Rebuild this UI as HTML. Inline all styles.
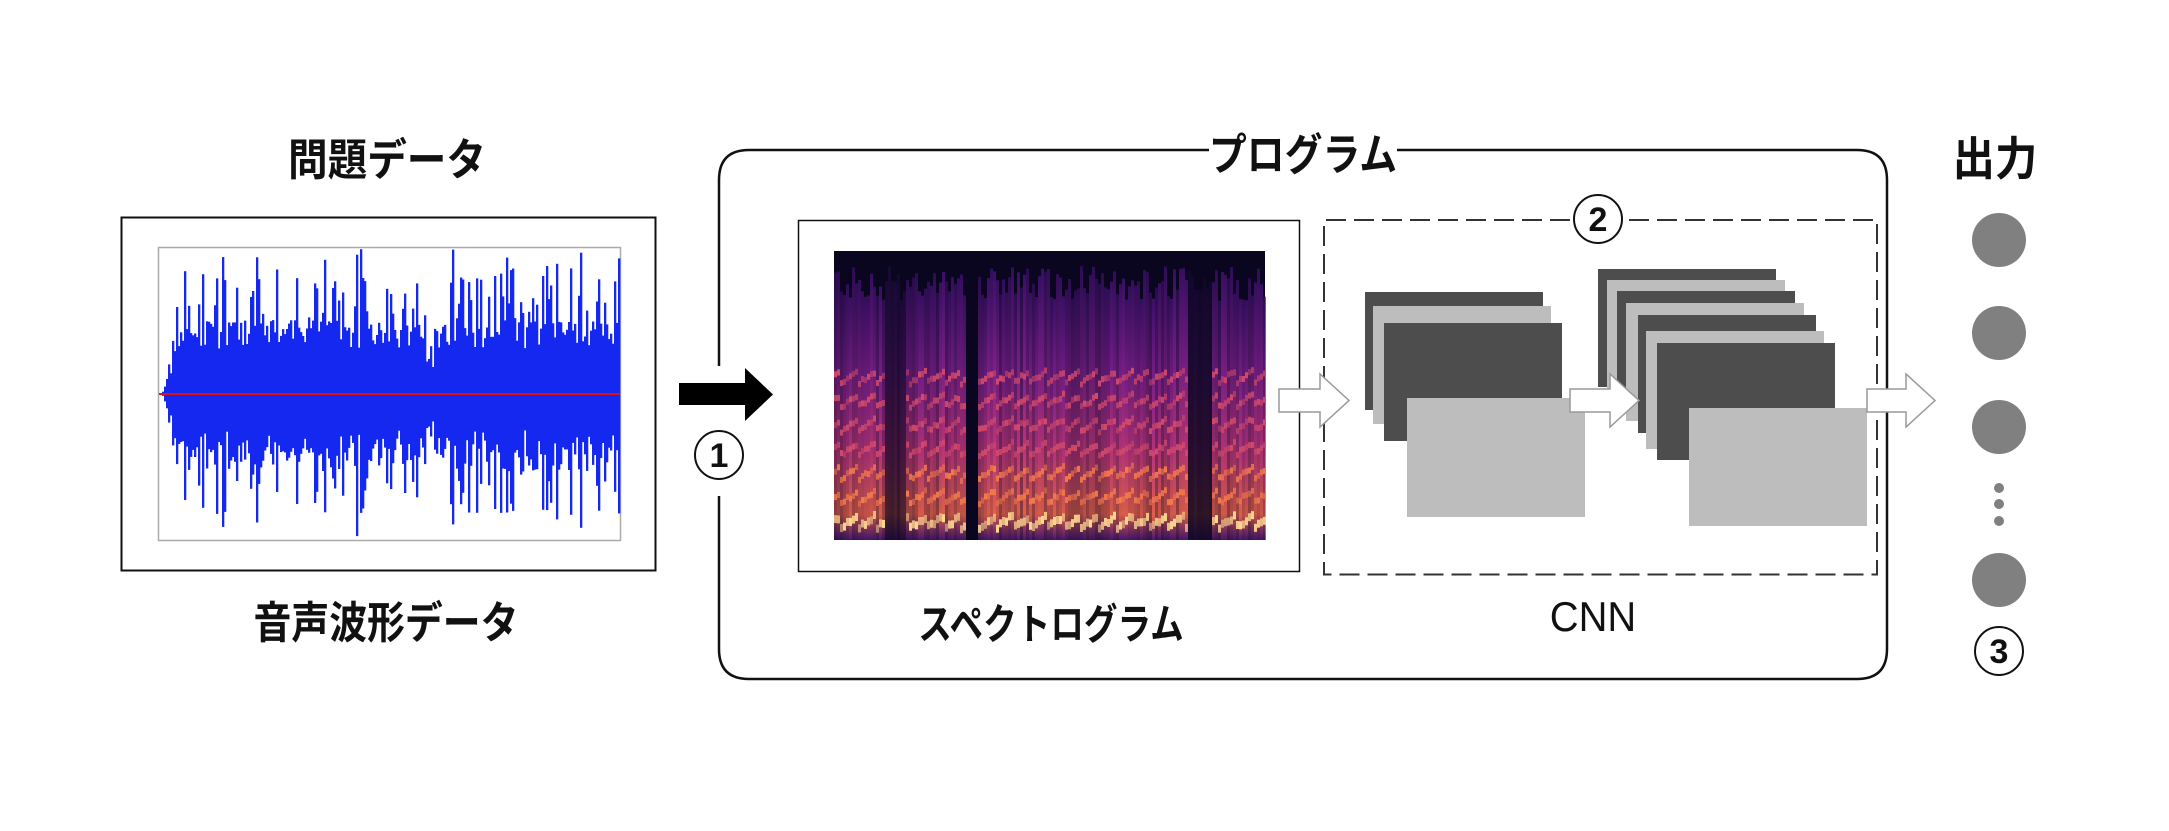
<!DOCTYPE html>
<html><head><meta charset="utf-8">
<style>
html,body{margin:0;padding:0;background:#fff;}
body{width:2169px;height:831px;position:relative;overflow:hidden;font-family:"Liberation Sans","Noto Sans CJK JP",sans-serif;}
.t{position:absolute;font-family:"Noto Sans CJK JP","Liberation Sans",sans-serif;font-weight:700;color:#111;white-space:nowrap;line-height:1;}
</style></head><body>
<svg id="s" width="2169" height="831" style="position:absolute;left:0;top:0">
<defs>
<linearGradient id="col" x1="0" y1="0" x2="0" y2="1">
<stop offset="0" stop-color="#3a0f66"/><stop offset="0.35" stop-color="#7a1f88"/><stop offset="0.65" stop-color="#b8347a"/><stop offset="0.9" stop-color="#e0604a"/><stop offset="1" stop-color="#4a1670"/>
</linearGradient>
</defs>
<rect x="121.5" y="217.5" width="534" height="353" fill="#fff" stroke="#111" stroke-width="2"/>
<rect x="158.5" y="247.5" width="462" height="293" fill="#fff" stroke="#aaa" stroke-width="1.5"/>
<g id="wave"><polygon fill="#1428f0" points="162,394 175,340 200,335 300,330 420,340 431,360 445,335 600,330 620,335 620,453 600,458 445,453 431,430 420,448 300,458 200,453 175,448"/></g>
<line x1="159" y1="394" x2="620" y2="394" stroke="#e01010" stroke-width="2"/>
<polygon points="679,383 745,383 745,368 773,394.5 745,421 745,405 679,405" fill="#000"/>
<path d="M1209,150 L749,150 Q719,150 719,180 L719,366 M719,496 L719,649 Q719,679 749,679 L1857,679 Q1887,679 1887,649 L1887,180 Q1887,150 1857,150 L1397,150" fill="none" stroke="#111" stroke-width="2.5"/>
<circle cx="719" cy="455" r="24" fill="#fff" stroke="#111" stroke-width="2"/>
<rect x="798.5" y="220.5" width="501" height="351" fill="#fff" stroke="#111" stroke-width="1.5"/>
<rect x="834" y="251" width="431" height="289" fill="#0a0620"/>
<g id="spec"></g>
<path d="M1570,220 L1324,220 L1324,574.5 L1877,574.5 L1877,220 L1626,220" fill="none" stroke="#333" stroke-width="2" stroke-dasharray="20,8"/>
<circle cx="1598" cy="219" r="24" fill="#fff" stroke="#111" stroke-width="2"/>
<rect x="1365" y="292" width="178" height="118" fill="#4d4d4d"/>
<rect x="1373" y="306" width="178" height="118" fill="#bdbdbd"/>
<rect x="1384" y="323" width="178" height="118" fill="#4d4d4d"/>
<rect x="1407" y="398" width="178" height="119" fill="#bdbdbd"/>
<rect x="1598" y="269" width="178" height="118" fill="#4d4d4d"/>
<rect x="1607" y="280" width="178" height="118" fill="#bdbdbd"/>
<rect x="1617" y="291" width="178" height="118" fill="#4d4d4d"/>
<rect x="1626" y="303" width="178" height="118" fill="#bdbdbd"/>
<rect x="1638" y="315" width="178" height="118" fill="#4d4d4d"/>
<rect x="1646" y="331" width="178" height="118" fill="#bdbdbd"/>
<rect x="1657" y="343" width="178" height="117" fill="#4d4d4d"/>
<rect x="1689" y="408" width="178" height="118" fill="#bdbdbd"/>
<g fill="#fff" stroke="#999" stroke-width="1.5">
<polygon points="1279,389 1320,389 1320,374 1349,400.5 1320,427 1320,412 1279,412"/>
<polygon points="1570,389 1610,389 1610,374 1639,400.5 1610,427 1610,412 1570,412"/>
<polygon points="1867,389 1906,389 1906,374 1935,400.5 1906,427 1906,412 1867,412"/>
</g>
<g fill="#808080">
<circle cx="1999" cy="240" r="27"/><circle cx="1999" cy="333" r="27"/><circle cx="1999" cy="427" r="27"/><circle cx="1999" cy="580" r="27"/>
<circle cx="1999" cy="488" r="5"/><circle cx="1999" cy="504" r="5"/><circle cx="1999" cy="521" r="5"/>
</g>
<circle cx="1999" cy="651" r="24" fill="#fff" stroke="#111" stroke-width="2"/>
</svg>
<div class="t" style="left:387px;top:156px;font-size:44px;transform:translate(-50%,-50%) scaleX(0.9);">問題データ</div>
<div class="t" style="left:386px;top:619px;font-size:44px;transform:translate(-50%,-50%) scaleX(0.86);">音声波形データ</div>
<div class="t" style="left:1303px;top:151px;font-size:44px;transform:translate(-50%,-50%) scaleX(0.86);">プログラム</div>
<div class="t" style="left:1051px;top:622px;font-size:42px;transform:translate(-50%,-50%) scaleX(0.8);">スペクトログラム</div>
<div class="t" style="left:1995px;top:156px;font-size:46px;transform:translate(-50%,-50%) scaleX(0.92);">出力</div>
<div class="t" style="left:1593px;top:617px;font-size:42px;font-weight:400;font-family:'Liberation Sans',sans-serif;transform:translate(-50%,-50%) scaleX(0.95);">CNN</div>
<div class="t" style="left:719px;top:456px;font-size:34px;font-family:'Liberation Sans',sans-serif;transform:translate(-50%,-50%);">1</div>
<div class="t" style="left:1598px;top:220px;font-size:34px;font-family:'Liberation Sans',sans-serif;transform:translate(-50%,-50%);">2</div>
<div class="t" style="left:1999px;top:652px;font-size:34px;font-family:'Liberation Sans',sans-serif;transform:translate(-50%,-50%);">3</div>
<script>
(function(){
var seed=7;function r(){seed=(seed*16807)%2147483647;return seed/2147483647;}
var w=document.getElementById('wave');
function env(x){var e=1;if(x<180)e=Math.max(0.05,(x-162)/18);
 var d=Math.abs(x-431);if(d<14)e*=0.55+0.45*d/14;return e;}
var h='';
for(var x=162;x<620;x+=2){var e=env(x);var a=e*(45+r()*30);if(r()<0.35)a=e*(70+r()*50);if(r()<0.06)a=e*(110+r()*35);
 a=Math.min(a,145);h+='<rect x="'+x+'" y="'+(394-a).toFixed(1)+'" width="2.3" height="'+(2*a*(0.88+r()*0.15)).toFixed(1)+'" fill="#1428f0"/>';}
w.innerHTML=h;
var s=document.getElementById('spec');var g='';
var dark=[[883,905,0.35],[965,976,0],[1188,1212,0.2]];
for(var x=834;x<1265;x+=3){
 var lvl=1;for(var i=0;i<dark.length;i++){if(x>=dark[i][0]&&x<dark[i][1])lvl=dark[i][2];}
 if(lvl==0)continue;
 var top=251+15+r()*35;
 var op=(0.6+r()*0.4)*lvl;
 g+='<rect x="'+x+'" y="'+top.toFixed(1)+'" width="3" height="'+(540-top).toFixed(1)+'" fill="url(#col)" opacity="'+op.toFixed(2)+'"/>';
 if(lvl==1){
  for(var k=0;k<7;k++){var y=522-k*24-((x*0.7)%12)+r()*4;var c=k==0?'#ffd890':(k<3?'#f57a4a':'#d24a6a');
   g+='<rect x="'+x+'" y="'+y.toFixed(1)+'" width="3" height="'+(k==0?8:6)+'" fill="'+c+'" opacity="'+(0.5+r()*0.5).toFixed(2)+'"/>';}
 }
}
s.innerHTML=g;
})();
</script>
</body></html>
